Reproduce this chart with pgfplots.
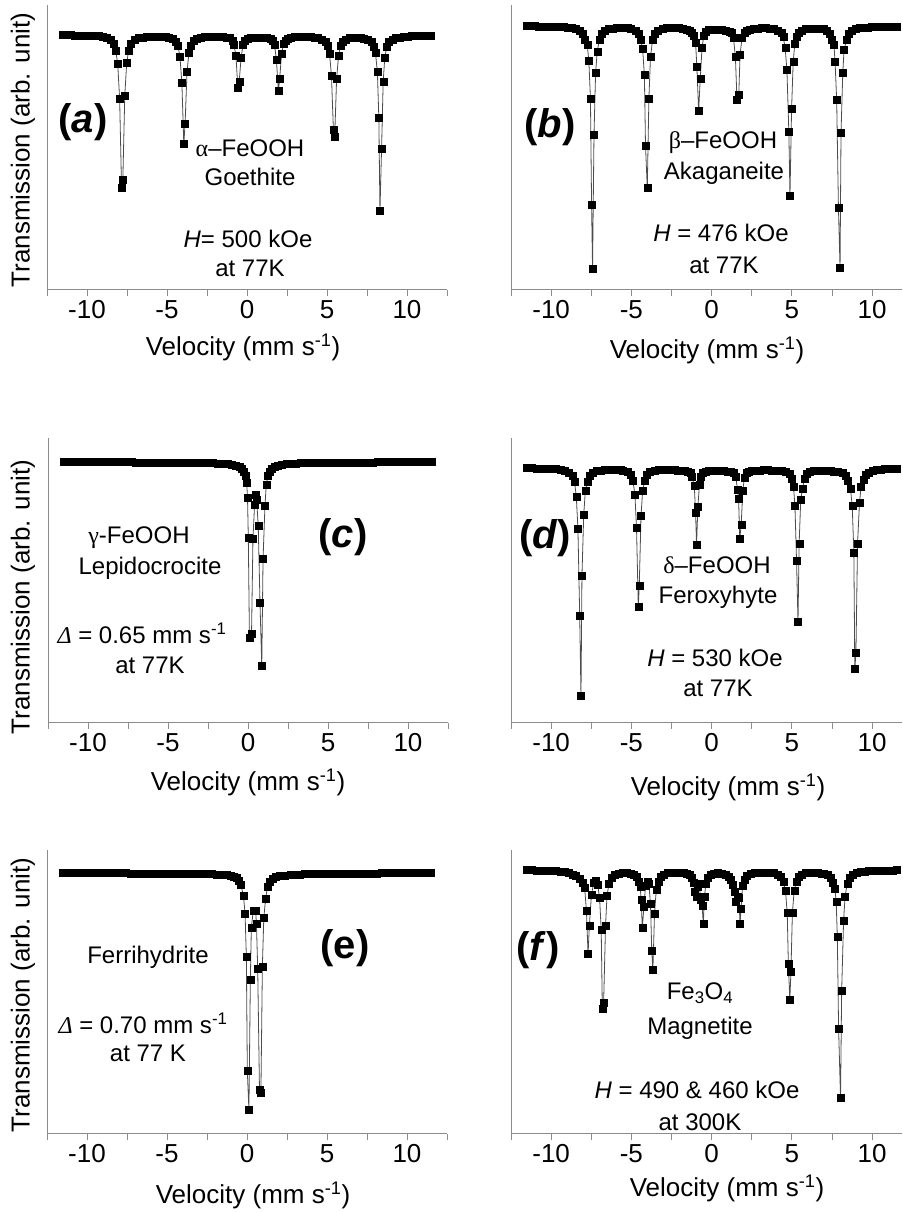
\documentclass[border=0pt]{standalone}
\usepackage{fontspec}
\setmainfont{Liberation Sans}
\newfontfamily\grk{Liberation Serif}
\usepackage{pgfplots}
\pgfplotsset{compat=1.18}

\newcommand{\tk}{\fontsize{26}{30}\selectfont}
\newcommand{\an}{\fontsize{24}{28}\selectfont}
\newcommand{\pl}{\fontsize{40}{46}\selectfont\bfseries}
\newcommand{\vel}{Velocity (mm s\textsuperscript{-1})}

\pgfplotsset{
  moss/.style={
    scale only axis, anchor=south west,
    axis lines=left,
    axis line style={draw=black!45, line width=1pt, -},
    xmin=-12.5,
    ytick=\empty,
    xtick={-10,-5,0,5,10},
    xticklabels={-10,-5,0,5,10},
    minor xtick={-12.5,-7.5,-2.5,2.5,7.5,12.5},
    tick align=outside,
    major tick length=6pt, minor tick length=6pt,
    tick style={draw=black!45, line width=1pt},
    xticklabel style={font=\tk, text=black, inner sep=0pt, anchor=north, yshift=-4pt},
  },
  spec/.style={draw=black!70, line width=0.8pt, mark=square*, mark size=3.5pt,
    mark options={draw=black, fill=black, line width=0.2pt}},
}

\begin{document}
\begin{tikzpicture}[x=1pt,y=1pt]
\useasboundingbox (0,0) rectangle (902,1212);

% (a) goethite
\begin{axis}[moss, at={(47pt,922pt)}, width=400pt, height=285pt,
  xmax=12.5, ymin=-255, ymax=30]
\addplot[spec] coordinates {
(-11.5,0) (-11.25,0) (-11,-0.1) (-10.75,-0.2) (-10.5,-0.3) (-10.25,-0.4) (-10,-0.5) (-9.75,-0.6) (-9.5,-0.8) (-9.25,-1) (-9,-1.3)
(-8.8,-3) (-8.55,-5) (-8.35,-9) (-8.2,-16) (-8.08,-29) (-7.96,-64) (-7.84,-153) (-7.76,-145) (-7.64,-61) (-7.52,-28) (-7.4,-16) (-7.25,-9) (-7.05,-5) (-6.8,-3)
(-6.55,-2.2) (-6.3,-1.7) (-6.05,-1.4) (-5.8,-1.3) (-5.55,-1.3) (-5.3,-1.5) (-5.1,-1.8)
(-4.91,-2.5) (-4.66,-4) (-4.46,-7) (-4.31,-11) (-4.19,-22) (-4.07,-48) (-3.95,-109) (-3.87,-89) (-3.75,-37) (-3.63,-18) (-3.51,-11) (-3.36,-6) (-3.16,-3.5) (-2.91,-2.5)
(-2.66,-2) (-2.41,-1.6) (-2.16,-1.5) (-1.91,-1.5) (-1.72,-1.7)
(-1.53,-2) (-1.28,-2.5) (-1.08,-3) (-0.93,-6) (-0.81,-10) (-0.69,-21) (-0.57,-53) (-0.49,-47) (-0.37,-23) (-0.25,-10) (-0.13,-6) (0.02,-3.5) (0.22,-2.5) (0.47,-2.3)
(0.72,-2.3)
(1,-2.5) (1.25,-3) (1.45,-3.5) (1.6,-6) (1.72,-10) (1.84,-25) (1.96,-56) (2.04,-44) (2.16,-19) (2.28,-9) (2.4,-6) (2.55,-3.5) (2.75,-2.5) (3,-2)
(3.25,-1.8) (3.5,-1.7) (3.75,-1.8) (4,-2) (4.22,-2.3)
(4.44,-3) (4.69,-4.5) (4.89,-7) (5.04,-11) (5.16,-19) (5.28,-41) (5.4,-95) (5.48,-102) (5.6,-44) (5.72,-21) (5.84,-11) (5.99,-7) (6.19,-4.5) (6.44,-3)
(6.69,-2.6) (6.94,-2.7) (7.13,-3)
(7.31,-3.5) (7.56,-5) (7.76,-7) (7.91,-12) (8.03,-18) (8.15,-37) (8.24,-83) (8.31,-176) (8.41,-114) (8.51,-47) (8.61,-23) (8.73,-12) (8.88,-7) (9.08,-4.5) (9.31,-3)
(9.56,-2.2) (9.81,-1.7) (10.06,-1.3) (10.31,-1) (10.56,-0.8) (10.81,-0.6) (11.06,-0.5) (11.31,-0.4) (11.5,-0.3)
};
\end{axis}

% (b) akaganeite
\begin{axis}[moss, at={(511pt,922pt)}, width=391pt, height=285pt,
  xmax=11.86, ymin=-264, ymax=21]
\addplot[spec] coordinates {
(-11.5,0) (-11.25,0) (-11,-0.1) (-10.75,-0.2) (-10.5,-0.3) (-10.25,-0.4) (-10,-0.5) (-9.75,-0.6) (-9.5,-0.7) (-9.25,-0.9) (-9,-1.2) (-8.72,-1.8)
(-8.45,-3) (-8.25,-5) (-8.05,-8) (-7.9,-14) (-7.75,-19) (-7.65,-35) (-7.55,-73) (-7.48,-179) (-7.42,-243) (-7.33,-109) (-7.23,-47) (-7.13,-26) (-7,-14) (-6.85,-8) (-6.65,-5) (-6.45,-3)
(-6.2,-2.2) (-5.95,-1.8) (-5.7,-1.7) (-5.45,-1.7) (-5.25,-2)
(-5.05,-2.5) (-4.75,-4.5) (-4.55,-8) (-4.42,-14) (-4.3,-23) (-4.19,-49) (-4.12,-120) (-4.01,-162) (-3.91,-73) (-3.81,-31) (-3.68,-14) (-3.55,-8) (-3.35,-4.5) (-3.05,-2.5)
(-2.8,-2) (-2.55,-1.8) (-2.3,-1.8) (-2.05,-2)
(-1.79,-2.5) (-1.54,-3.5) (-1.36,-4.5) (-1.22,-7) (-1.1,-10) (-1,-17) (-0.92,-41) (-0.81,-85) (-0.71,-53) (-0.6,-22) (-0.49,-10) (-0.37,-6) (-0.22,-4) (-0.04,-3.5)
(0.2,-3.5) (0.42,-3.8)
(0.64,-4) (0.89,-4.5) (1.09,-5.5) (1.24,-7) (1.36,-12) (1.48,-31) (1.58,-74) (1.69,-69) (1.77,-29) (1.89,-12) (2.04,-7) (2.19,-5) (2.39,-4) (2.64,-3)
(2.89,-2.3) (3.14,-2) (3.39,-2) (3.64,-2.3)
(3.88,-3) (4.13,-4.5) (4.33,-7) (4.46,-11) (4.58,-22) (4.69,-44) (4.81,-106) (4.88,-170) (4.98,-83) (5.08,-36) (5.18,-18) (5.3,-11) (5.43,-7) (5.63,-4.5) (5.88,-3)
(6.13,-2.5) (6.38,-2.3) (6.63,-2.5)
(6.95,-3) (7.15,-5) (7.35,-8) (7.5,-14) (7.62,-19) (7.69,-36) (7.79,-74) (7.9,-182) (8,-242) (8.06,-107) (8.17,-47) (8.25,-24) (8.4,-14) (8.55,-8) (8.75,-5) (8.95,-3)
(9.2,-2) (9.45,-1.5) (9.7,-1.2) (9.95,-0.9) (10.2,-0.7) (10.45,-0.6) (10.7,-0.5) (10.95,-0.4) (11.2,-0.3) (11.5,-0.2)
};
\end{axis}

% (c) lepidocrocite
\begin{axis}[moss, at={(48pt,489pt)}, width=400pt, height=285pt,
  xmax=12.5, ymin=-261, ymax=24]
\addplot[spec] coordinates {
(-11.5,0) (-11.2,0) (-10.9,0) (-10.6,0) (-10.3,0) (-10,0) (-9.7,0) (-9.4,0) (-9.1,0) (-8.8,0) (-8.5,-0.1) (-8.2,-0.1) (-7.9,-0.1) (-7.6,-0.1) (-7.3,-0.1) (-7,-0.2) (-6.7,-0.2) (-6.4,-0.2) (-6.1,-0.2) (-5.8,-0.2) (-5.5,-0.3) (-5.2,-0.3) (-4.9,-0.3) (-4.6,-0.4) (-4.3,-0.4) (-4,-0.5) (-3.7,-0.5) (-3.4,-0.6) (-3.1,-0.7) (-2.8,-0.8) (-2.5,-0.9) (-2.2,-1.1) (-1.9,-1.3) (-1.6,-1.6) (-1.3,-2) (-1,-2.6) (-0.75,-3.5) (-0.55,-5) (-0.4,-7) (-0.28,-10) (-0.18,-14)
(-0.08,-21) (-0.03,-36) (0.02,-76) (0.09,-176) (0.22,-172) (0.31,-77) (0.41,-43) (0.47,-33) (0.54,-38) (0.64,-64) (0.75,-141) (0.86,-204) (0.94,-97) (1.06,-44) (1.14,-23)
(1.24,-14) (1.36,-10) (1.5,-7) (1.65,-5) (1.85,-3.5) (2.1,-2.6) (2.4,-2) (2.7,-1.6) (3,-1.3) (3.3,-1.1) (3.6,-0.9) (3.9,-0.8) (4.2,-0.7) (4.5,-0.6) (4.8,-0.5) (5.1,-0.5) (5.4,-0.4) (5.7,-0.4) (6,-0.3) (6.3,-0.3) (6.6,-0.3) (6.9,-0.2) (7.2,-0.2) (7.5,-0.2) (7.8,-0.2) (8.1,-0.1) (8.4,-0.1) (8.7,-0.1) (9,-0.1) (9.3,-0.1) (9.6,0) (9.9,0) (10.2,0) (10.5,0) (10.8,0) (11.1,0) (11.4,0) (11.5,0)
};
\end{axis}

% (d) feroxyhyte
\begin{axis}[moss, at={(511pt,489pt)}, width=391pt, height=285pt,
  xmax=11.86, ymin=-255, ymax=30]
\addplot[spec] coordinates {
(-11.5,0) (-11.2,-0.1) (-10.9,-0.2) (-10.6,-0.3) (-10.3,-0.4) (-10,-0.6) (-9.7,-0.9) (-9.4,-1.5)
(-9.14,-3) (-8.89,-5) (-8.69,-8) (-8.54,-14) (-8.43,-29) (-8.33,-61) (-8.22,-148) (-8.14,-228) (-8.08,-108) (-7.97,-47) (-7.87,-23) (-7.74,-14) (-7.59,-8) (-7.39,-5) (-7.14,-3)
(-6.89,-2.2) (-6.64,-1.8) (-6.39,-1.6) (-6.14,-1.5) (-5.89,-1.6) (-5.69,-1.9)
(-5.54,-2.5) (-5.24,-4) (-5.04,-7) (-4.9,-13) (-4.78,-27) (-4.68,-60) (-4.57,-139) (-4.51,-118) (-4.4,-48) (-4.3,-23) (-4.18,-13) (-4.04,-7) (-3.84,-4) (-3.54,-2.5)
(-3.29,-2) (-3.04,-1.8) (-2.79,-1.8) (-2.54,-1.9) (-2.29,-2.1) (-2.1,-2.3)
(-1.94,-2.5) (-1.69,-3) (-1.49,-3.5) (-1.34,-5) (-1.22,-9) (-1.08,-18) (-1,-45) (-0.94,-77) (-0.86,-39) (-0.76,-17) (-0.66,-9) (-0.54,-5) (-0.39,-3.5) (-0.19,-3)
(0.06,-2.5) (0.31,-2.5) (0.53,-2.7)
(0.75,-3) (1,-3.5) (1.2,-4) (1.35,-5) (1.5,-9) (1.62,-22) (1.68,-31) (1.75,-71) (1.84,-57) (1.94,-23) (2.04,-10) (2.16,-5) (2.3,-3.5) (2.5,-3) (2.75,-2.5)
(3,-2.2) (3.25,-2) (3.5,-2) (3.75,-2.2) (4,-2.5) (4.2,-2.8)
(4.38,-3) (4.63,-4) (4.83,-6) (4.98,-11) (5.1,-19) (5.19,-38) (5.29,-93) (5.38,-154) (5.45,-76) (5.55,-32) (5.65,-21) (5.78,-11) (5.93,-6) (6.13,-4) (6.38,-3)
(6.63,-2.5) (6.88,-2.5) (7.13,-2.7) (7.38,-3) (7.62,-3.2)
(7.85,-3.5) (8.15,-5) (8.35,-8) (8.5,-13) (8.65,-21) (8.76,-38) (8.86,-85) (8.92,-201) (8.99,-185) (9.09,-76) (9.21,-35) (9.31,-19) (9.45,-12) (9.6,-7) (9.8,-4.5) (10.05,-3)
(10.3,-2) (10.55,-1.5) (10.8,-1.1) (11.05,-0.8) (11.3,-0.6) (11.5,-0.5)
};
\end{axis}

% (e) ferrihydrite
\begin{axis}[moss, at={(47pt,78pt)}, width=400pt, height=284pt,
  xmax=12.5, ymin=-261, ymax=23]
\addplot[spec] coordinates {
(-11.5,0) (-11.2,0) (-10.9,0) (-10.6,0) (-10.3,0) (-10,0) (-9.7,0) (-9.4,0) (-9.1,0) (-8.8,-0.1) (-8.5,-0.1) (-8.2,-0.1) (-7.9,-0.1) (-7.6,-0.1) (-7.3,-0.2) (-7,-0.2) (-6.7,-0.2) (-6.4,-0.2) (-6.1,-0.3) (-5.8,-0.3) (-5.5,-0.3) (-5.2,-0.3) (-4.9,-0.4) (-4.6,-0.4) (-4.3,-0.5) (-4,-0.5) (-3.7,-0.6) (-3.4,-0.7) (-3.1,-0.8) (-2.8,-0.9) (-2.5,-1) (-2.2,-1.1) (-1.9,-1.3) (-1.6,-1.6) (-1.3,-2.1) (-1.05,-2.6) (-0.85,-3.5) (-0.65,-5) (-0.5,-8) (-0.38,-12)
(-0.22,-23) (-0.12,-41) (-0.04,-84) (0.02,-198) (0.12,-237) (0.21,-107) (0.27,-55) (0.39,-38) (0.54,-38) (0.59,-51) (0.67,-96) (0.78,-217) (0.87,-220) (0.96,-94) (1.05,-45) (1.16,-26)
(1.28,-14) (1.42,-9) (1.6,-6) (1.8,-4) (2.05,-3) (2.35,-2.2) (2.7,-1.7) (3,-1.4) (3.3,-1.2) (3.6,-1) (3.9,-0.9) (4.2,-0.8) (4.5,-0.7) (4.8,-0.6) (5.1,-0.5) (5.4,-0.5) (5.7,-0.4) (6,-0.4) (6.3,-0.3) (6.6,-0.3) (6.9,-0.3) (7.2,-0.2) (7.5,-0.2) (7.8,-0.2) (8.1,-0.2) (8.4,-0.1) (8.7,-0.1) (9,-0.1) (9.3,-0.1) (9.6,-0.1) (9.9,0) (10.2,0) (10.5,0) (10.8,0) (11.1,0) (11.4,0) (11.5,0)
};
\end{axis}

% (f) magnetite
\begin{axis}[moss, at={(511pt,78pt)}, width=391pt, height=284pt,
  xmax=11.86, ymin=-264, ymax=20]
\addplot[spec] coordinates {
(-11.5,0) (-11.2,-0.1) (-10.9,-0.2) (-10.6,-0.3) (-10.3,-0.5) (-10,-0.7) (-9.7,-1) (-9.4,-1.5) (-9.15,-2)
(-8.9,-3) (-8.65,-4.5) (-8.45,-6) (-8.25,-9) (-8.05,-13) (-7.91,-18) (-7.8,-41) (-7.7,-84) (-7.62,-56) (-7.49,-25) (-7.35,-13) (-7.22,-11) (-7.1,-15) (-6.98,-28) (-6.88,-60) (-6.81,-139) (-6.73,-133) (-6.61,-56) (-6.52,-26) (-6.4,-14) (-6.25,-8) (-6.05,-5) (-5.8,-3.5) (-5.55,-3)
(-5.3,-3) (-5.05,-3.5)
(-4.85,-5) (-4.7,-7) (-4.55,-12) (-4.45,-17) (-4.39,-30) (-4.32,-58) (-4.22,-37) (-4.12,-16) (-4,-12) (-3.91,-14) (-3.81,-34) (-3.73,-81) (-3.66,-100) (-3.56,-44) (-3.45,-20) (-3.33,-12) (-3.18,-7) (-2.98,-4.5) (-2.73,-3)
(-2.48,-2.5) (-2.23,-2.3) (-1.98,-2.5) (-1.73,-3) (-1.55,-3.5)
(-1.4,-5) (-1.25,-8) (-1.13,-13) (-1.05,-22) (-0.96,-27) (-0.86,-17) (-0.78,-14) (-0.68,-30) (-0.59,-36) (-0.52,-54) (-0.45,-27) (-0.36,-14) (-0.24,-8) (-0.08,-5) (0.15,-3.5)
(0.4,-3) (0.65,-3.5)
(0.9,-5) (1.05,-7) (1.18,-10) (1.3,-15) (1.41,-22) (1.52,-32) (1.62,-27) (1.7,-28) (1.77,-54) (1.83,-39) (1.93,-16) (2.05,-10) (2.2,-6) (2.4,-4) (2.65,-3)
(2.9,-2.5) (3.15,-2.3) (3.4,-2.4) (3.65,-2.8)
(3.87,-3) (4.12,-4.5) (4.32,-7) (4.47,-12) (4.6,-21) (4.71,-43) (4.78,-94) (4.87,-130) (4.94,-102) (5.03,-43) (5.14,-21) (5.27,-12) (5.42,-7) (5.62,-4.5) (5.87,-3)
(6.12,-2.5) (6.37,-2.5) (6.62,-2.8) (6.82,-3.2)
(7,-3.5) (7.2,-5) (7.4,-8) (7.55,-13) (7.68,-19) (7.76,-32) (7.83,-67) (7.91,-159) (8.03,-228) (8.1,-121) (8.22,-51) (8.31,-27) (8.44,-14) (8.6,-8) (8.8,-5) (9.05,-3)
(9.3,-2) (9.55,-1.5) (9.8,-1.1) (10.05,-0.9) (10.3,-0.7) (10.55,-0.5) (10.8,-0.4) (11.05,-0.3) (11.3,-0.2) (11.5,-0.1)
};
\end{axis}

% axis titles
\node[rotate=90, font=\tk] at (23,1062) {Transmission (arb. unit)};
\node[rotate=90, font=\tk] at (23,615) {Transmission (arb. unit)};
\node[rotate=90, font=\tk] at (23,217) {Transmission (arb. unit)};
\node[font=\tk] at (243,865) {\vel};
\node[font=\tk] at (707,862) {\vel};
\node[font=\tk] at (248,430) {\vel};
\node[font=\tk] at (728,425) {\vel};
\node[font=\tk] at (253,17) {\vel};
\node[font=\tk] at (727,24) {\vel};

% panel letters
\node[font=\pl] at (83,1090) {(\textit{a})};
\node[font=\pl] at (550,1085) {(\textit{b})};
\node[font=\pl] at (343,675) {(\textit{c})};
\node[font=\pl] at (545,674) {(\textit{d})};
\node[font=\pl] at (345,264) {(e)};
\node[font=\pl] at (538,262) {(\textit{f})};

% annotations
\node[font=\an] at (250,1064) {{\grk α}–FeOOH};
\node[font=\an] at (250,1035) {Goethite};
\node[font=\an] at (248,973) {\textit{H}= 500 kOe};
\node[font=\an] at (250,944) {at 77K};

\node[font=\an] at (723,1069) {{\grk β}–FeOOH};
\node[font=\an] at (724,1039) {Akaganeite};
\node[font=\an] at (721,979) {\textit{H} = 476 kOe};
\node[font=\an] at (724,947) {at 77K};

\node[font=\an] at (139,674) {{\grk γ}-FeOOH};
\node[font=\an] at (150,644) {Lepidocrocite};
\node[font=\an] at (142,579) {{\grk\itshape Δ} = 0.65 mm s\textsuperscript{-1}};
\node[font=\an] at (150,547) {at 77K};

\node[font=\an] at (717,647) {{\grk δ}–FeOOH};
\node[font=\an] at (718,615) {Feroxyhyte};
\node[font=\an] at (715,554) {\textit{H} = 530 kOe};
\node[font=\an] at (718,524) {at 77K};

\node[font=\an] at (148,255) {Ferrihydrite};
\node[font=\an] at (143,189) {{\grk\itshape Δ} = 0.70 mm s\textsuperscript{-1}};
\node[font=\an] at (148,159) {at 77 K};

\node[font=\an] at (700,219) {Fe\textsubscript{3}O\textsubscript{4}};
\node[font=\an] at (700,184) {Magnetite};
\node[font=\an] at (697,122) {\textit{H} = 490 \& 460 kOe};
\node[font=\an] at (700,90) {at 300K};
\end{tikzpicture}
\end{document}
